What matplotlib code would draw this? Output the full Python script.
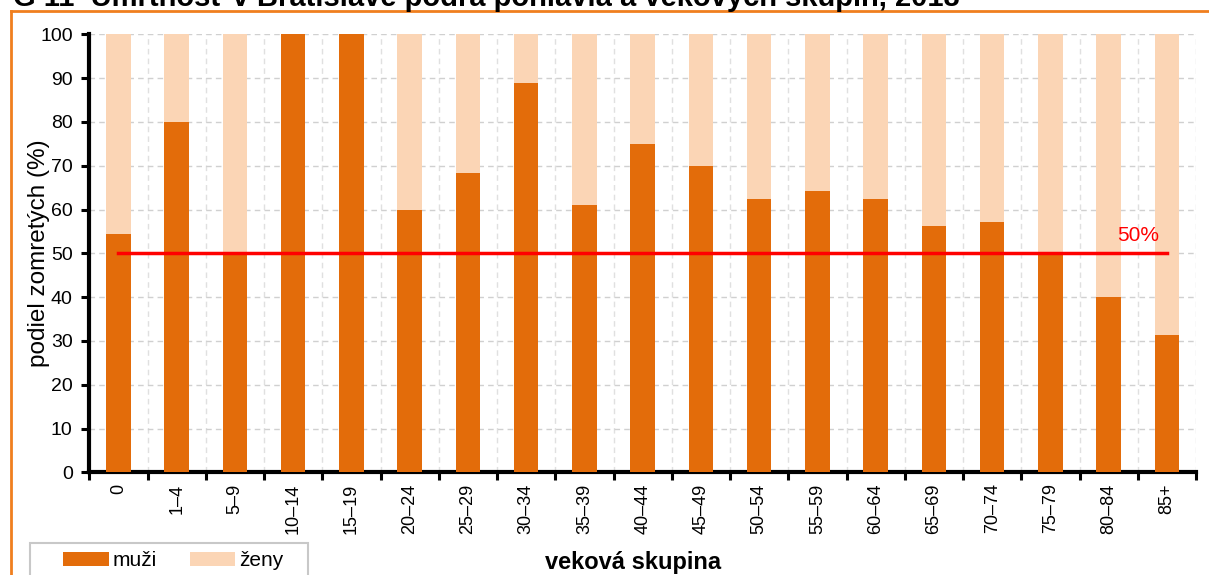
import numpy as np
import matplotlib.pyplot as plt
from matplotlib.lines import Line2D
from matplotlib.patches import Rectangle
from matplotlib import font_manager

# age groups and share of deaths (%)
groups = ['0', '1–4', '5–9', '10–14', '15–19', '20–24', '25–29', '30–34', '35–39',
          '40–44', '45–49', '50–54', '55–59', '60–64', '65–69', '70–74', '75–79',
          '80–84', '85+']
muzi = [54.5, 80, 50, 100, 100, 60, 68.3, 88.9, 61.0, 75.0, 70.0, 62.3, 64.3,
        62.5, 56.3, 57.1, 50, 40.1, 31.4]
zeny = [100 - m for m in muzi]
ref_level = 50

# narrow font if available
names = {f.name for f in font_manager.fontManager.ttflist}
narrow = 'Liberation Sans Narrow' if 'Liberation Sans Narrow' in names else 'Liberation Sans'
plt.rcParams['font.family'] = [narrow, 'DejaVu Sans']
arial = ['Liberation Sans', 'DejaVu Sans']

c_m = '#E36C0A'
c_z = '#FBD5B5'
W, H = 1209, 575

fig = plt.figure(figsize=(12.09, 5.75), dpi=100)
ax = fig.add_axes([0.0739, 0.1786, 0.9154, 0.7617])

x = np.arange(len(groups))
ax.bar(x, muzi, width=0.42, color=c_m, label='muži', zorder=3)
ax.bar(x, zeny, width=0.42, bottom=muzi, color=c_z, label='ženy', zorder=3)

ax.plot([x[0], x[-1]], [ref_level, ref_level], color='#FF0000', lw=2.5, zorder=4)
ax.text(x[-1] - 0.5, ref_level + 2, '50%', color='#FF0000', fontsize=15,
        ha='center', va='bottom')

ax.set_xlim(-0.5, len(groups) - 0.5)
ax.set_ylim(0, 100)
ax.set_yticks(range(0, 101, 10))
ax.set_xticks(x)
ax.set_xticklabels(groups, rotation=90, fontsize=13)
ax.tick_params(axis='x', length=0, pad=8)
ax.set_xticks(np.arange(-0.5, len(groups), 1), minor=True)
ax.tick_params(axis='x', which='minor', length=6, width=2.2, direction='out')
ax.tick_params(axis='y', labelsize=14, length=6, width=2.2, direction='out', pad=6)

ax.grid(axis='y', which='major', ls=(0, (4, 3)), color='#d0d0d0', lw=1, zorder=0)
ax.grid(axis='x', which='minor', ls=(0, (4, 3)), color='#e0e0e0', lw=1, zorder=0)

for s in ['top', 'right']:
    ax.spines[s].set_visible(False)
for s in ['left', 'bottom']:
    ax.spines[s].set_linewidth(3)

ax.set_ylabel('podiel zomretých (%)', fontsize=17.5, family=arial)
ax.yaxis.set_label_coords((50 - 89.3) / 1107, 0.5)
fig.text(633 / W, 1 - 562 / H, 'veková skupina', fontsize=17, fontweight='bold',
         family=arial, ha='center', va='center')

# legend with a separate frame (cut off at the bottom)
fig.add_artist(Rectangle((30 / W, -0.05), 278 / W, 0.05 + (575 - 543) / H,
                         transform=fig.transFigure, fill=False,
                         edgecolor='#c8c8c8', lw=1.5))
fig.legend(loc='upper left', bbox_to_anchor=(63 / W, 1 - 551 / H), ncol=2,
           fontsize=15, handlelength=2.2, handleheight=0.65, columnspacing=1.55,
           handletextpad=0.2, borderpad=0, borderaxespad=0, frameon=False)

# orange frame and cut-off title
fig.add_artist(Line2D([11 / W, 11 / W], [0, 1 - 11 / H], color='#F07F1E', lw=2,
                      transform=fig.transFigure))
fig.add_artist(Line2D([11 / W, 1], [1 - 11 / H, 1 - 11 / H], color='#F07F1E', lw=2,
                      transform=fig.transFigure))
fig.text(13 / W, 1 - 6 / H, 'G 11  Úmrtnosť v Bratislave podľa pohlavia a vekových skupín, 2018',
         fontsize=21, fontweight='bold', family=arial, ha='left', va='baseline')

fig.savefig('out.png', dpi=100)
